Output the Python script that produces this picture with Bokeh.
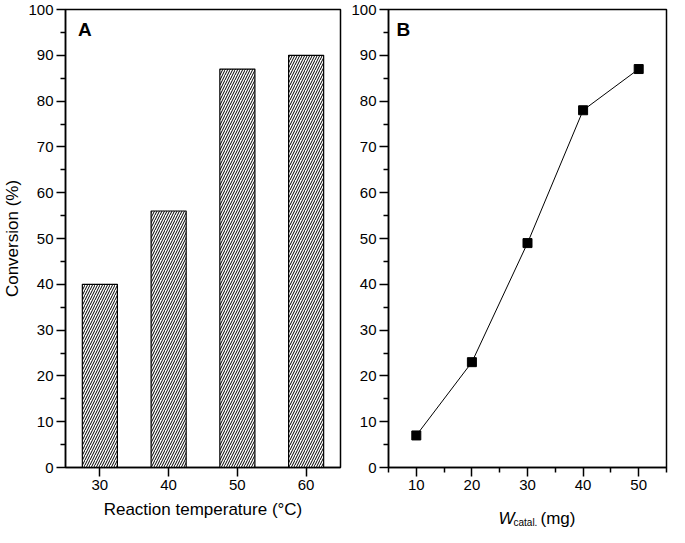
from bokeh.plotting import figure
from bokeh.layouts import row, column
from bokeh.models import FixedTicker, Label, Range1d
from bokeh.core.properties import value
from bokeh.embed import file_html
from bokeh.resources import INLINE

# Panel A data
temps = [30, 40, 50, 60]
conv_temp = [40, 56, 87, 90]
# Panel B data
wcat = [10, 20, 30, 40, 50]
conv_w = [7, 23, 49, 78, 87]

y_major = [0, 10, 20, 30, 40, 50, 60, 70, 80, 90, 100]
y_minor = [5, 15, 25, 35, 45, 55, 65, 75, 85, 95]
b_x_major = [10, 20, 30, 40, 50]
b_x_minor = [5, 15, 25, 35, 45, 55]

FONT = "Liberation Sans"
H = 527
LH = 30  # height of the strip carrying panel B's axis title


def style_axes(p):
    for ax in (p.xaxis[0], p.yaxis[0]):
        ax.axis_line_width = 1.5
        ax.axis_line_color = "black"
        ax.major_tick_in = 0
        ax.major_tick_out = 9
        ax.minor_tick_in = 0
        ax.minor_tick_out = 5
        ax.major_tick_line_width = 1.5
        ax.minor_tick_line_width = 1.5
        ax.major_tick_line_color = "black"
        ax.minor_tick_line_color = "black"
        ax.major_label_text_font = FONT
        ax.major_label_text_font_size = "15px"
        ax.major_label_text_color = "black"
        ax.major_label_standoff = 3
        ax.axis_label_text_font = FONT
        ax.axis_label_text_font_size = "17px"
        ax.axis_label_text_font_style = "normal"
        ax.axis_label_text_color = "black"
        ax.axis_label_standoff = 3
    p.xgrid.grid_line_color = None
    p.ygrid.grid_line_color = None
    p.outline_line_color = "black"
    p.outline_line_width = 1.5
    p.background_fill_color = "white"
    p.border_fill_color = "white"


# ---------- Panel A ----------
pA = figure(width=348, height=H, output_backend="svg", toolbar_location=None,
            x_range=Range1d(25, 65), y_range=Range1d(0, 100),
            min_border_left=60, min_border_right=8, min_border_top=9,
            min_border_bottom=60)
pA.vbar(x=temps, top=conv_temp, width=5.1, bottom=0,
        fill_color="white", line_color="black", line_width=1.2,
        hatch_pattern="/", hatch_scale=5, hatch_weight=1, hatch_color="black")
style_axes(pA)
pA.xaxis.ticker = FixedTicker(ticks=temps)
pA.xaxis.minor_tick_line_color = None
pA.xaxis.axis_label_standoff = 7
pA.yaxis.ticker = FixedTicker(ticks=y_major, minor_ticks=y_minor)
pA.xaxis.axis_label = "Reaction temperature (°C)"
pA.yaxis.axis_label = "Conversion (%)"
pA.add_layout(Label(x=26.8, y=98.0, text="A", text_font=FONT,
                    text_font_size="19px", text_font_style="bold",
                    text_baseline="top", text_align="left", text_color="black"))

# ---------- Panel B ----------
xr_b = Range1d(5, 55)
pB = figure(width=321, height=H - LH, output_backend="svg", toolbar_location=None,
            x_range=xr_b, y_range=Range1d(0, 100),
            min_border_left=38, min_border_right=3, min_border_top=9,
            min_border_bottom=30)
pB.line(wcat, conv_w, line_color="black", line_width=1)
pB.scatter(wcat, conv_w, marker="square", size=9, fill_color="black",
           line_color="black")
style_axes(pB)
pB.xaxis.ticker = FixedTicker(ticks=b_x_major, minor_ticks=b_x_minor)
pB.yaxis.ticker = FixedTicker(ticks=y_major, minor_ticks=y_minor)
pB.add_layout(Label(x=6.45, y=98.0, text="B", text_font=FONT,
                    text_font_size="19px", text_font_style="bold",
                    text_baseline="top", text_align="left", text_color="black"))

# strip under panel B holding its x-axis title: W_catal. (mg)
pT = figure(width=321, height=LH, output_backend="svg", toolbar_location=None,
            x_range=xr_b, y_range=Range1d(0, LH),
            x_axis_location=None, y_axis_location=None,
            min_border_left=38, min_border_right=3, min_border_top=0,
            min_border_bottom=0)
pT.grid.grid_line_color = None
pT.outline_line_color = None
pT.text(x=[30], y=[9], text=["W"], x_offset=-29, text_font=value(FONT),
        text_font_size="17px", text_font_style="italic",
        text_baseline="alphabetic", text_align="left", text_color="black")
pT.text(x=[30], y=[5], text=["catal."], x_offset=-14, text_font=value(FONT),
        text_font_size="10px", text_baseline="alphabetic", text_align="left",
        text_color="black")
pT.text(x=[30], y=[9], text=["(mg)"], x_offset=13, text_font=value(FONT),
        text_font_size="17px", text_baseline="alphabetic", text_align="left",
        text_color="black")

layout = row(pA, column(pB, pT))
open("out.html", "w").write(file_html(layout, INLINE))
